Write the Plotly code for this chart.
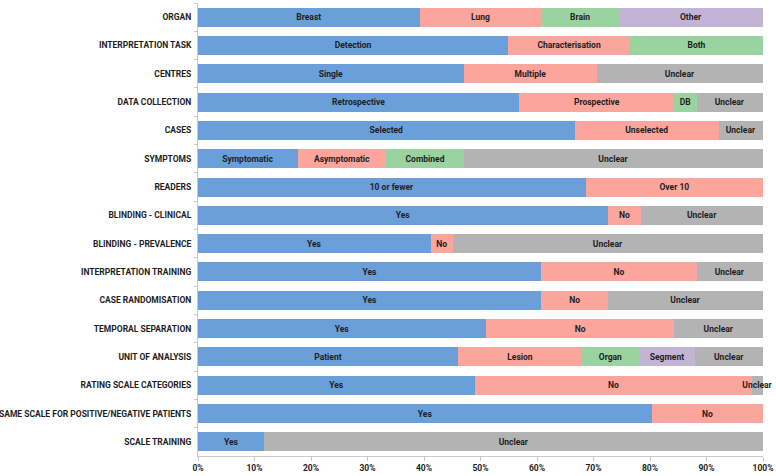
import plotly.graph_objects as go

# categories, top to bottom
categories = ["ORGAN", "INTERPRETATION TASK", "CENTRES", "DATA COLLECTION", "CASES",
              "SYMPTOMS", "READERS", "BLINDING - CLINICAL", "BLINDING - PREVALENCE",
              "INTERPRETATION TRAINING", "CASE RANDOMISATION", "TEMPORAL SEPARATION",
              "UNIT OF ANALYSIS", "RATING SCALE CATEGORIES",
              "SAME SCALE FOR POSITIVE/NEGATIVE PATIENTS", "SCALE TRAINING"]

# counts of studies per segment (each row normalised to 100%)
blue_vals = [20, 28, 24, 29, 34, 9, 35, 37, 21, 31, 31, 26, 23, 25, 41, 6]
blue_text = ["Breast", "Detection", "Single", "Retrospective", "Selected", "Symptomatic",
             "10 or fewer", "Yes", "Yes", "Yes", "Yes", "Yes", "Patient", "Yes", "Yes", "Yes"]

red_vals = [11, 11, 12, 14, 13, 8, 16, 3, 2, 14, 6, 17, 11, 25, 10, 0]
red_text = ["Lung", "Characterisation", "Multiple", "Prospective", "Unselected", "Asymptomatic",
            "Over 10", "No", "No", "No", "No", "No", "Lesion", "No", "No", ""]

green_vals = [7, 12, 0, 2, 0, 7, 0, 0, 0, 0, 0, 0, 5, 0, 0, 0]
green_text = ["Brain", "Both", "", "DB", "", "Combined", "", "", "", "", "", "", "Organ", "", "", ""]

purple_vals = [13, 0, 0, 0, 0, 0, 0, 0, 0, 0, 0, 0, 5, 0, 0, 0]
purple_text = ["Other", "", "", "", "", "", "", "", "", "", "", "", "Segment", "", "", ""]

grey_vals = [0, 0, 15, 6, 4, 27, 0, 11, 28, 6, 14, 8, 6, 1, 0, 45]
grey_text = ["" if v == 0 else "Unclear" for v in grey_vals]

series = [
    (blue_vals, blue_text, "#6a9fda"),
    (red_vals, red_text, "#fba59c"),
    (green_vals, green_text, "#9ad3a0"),
    (purple_vals, purple_text, "#c3b4d5"),
    (grey_vals, grey_text, "#b3b3b3"),
]

FONT = "Roboto, Liberation Sans, sans-serif"
FS = 8.5

fig = go.Figure()
for vals, txt, col in series:
    fig.add_trace(go.Bar(
        y=categories, x=vals, orientation="h",
        marker=dict(color=col, line=dict(width=0)),
        text=txt, textposition="inside", insidetextanchor="middle", textangle=0,
        textfont=dict(color="#1e1e1e", size=FS, weight="bold", family=FONT),
        cliponaxis=False, showlegend=False,
    ))

fig.update_layout(
    barmode="stack", barnorm="percent", bargap=0.33,
    width=776, height=476,
    margin=dict(l=198, r=13, t=3, b=20, autoexpand=False),
    plot_bgcolor="white", paper_bgcolor="white",
    font=dict(family=FONT, color="#1e1e1e"),
    uniformtext=dict(minsize=FS, mode="show"),
)
fig.update_xaxes(
    range=[0, 100], dtick=10, ticksuffix="%", showgrid=False, zeroline=False,
    showline=True, linecolor="#c8c8c8", ticks="outside", ticklen=4, tickcolor="#c8c8c8",
    tickfont=dict(size=FS, weight="bold"), automargin=False,
)
fig.update_yaxes(
    autorange="reversed", showgrid=False, showline=True, linecolor="#c8c8c8",
    ticks="outside", tickson="boundaries", ticklen=3, tickcolor="#c8c8c8",
    tickfont=dict(size=FS, weight="bold"), ticklabelstandoff=4, automargin=False,
)

fig.write_html("out.html", config={"displayModeBar": False},
               post_script="document.body.style.margin='0';")
